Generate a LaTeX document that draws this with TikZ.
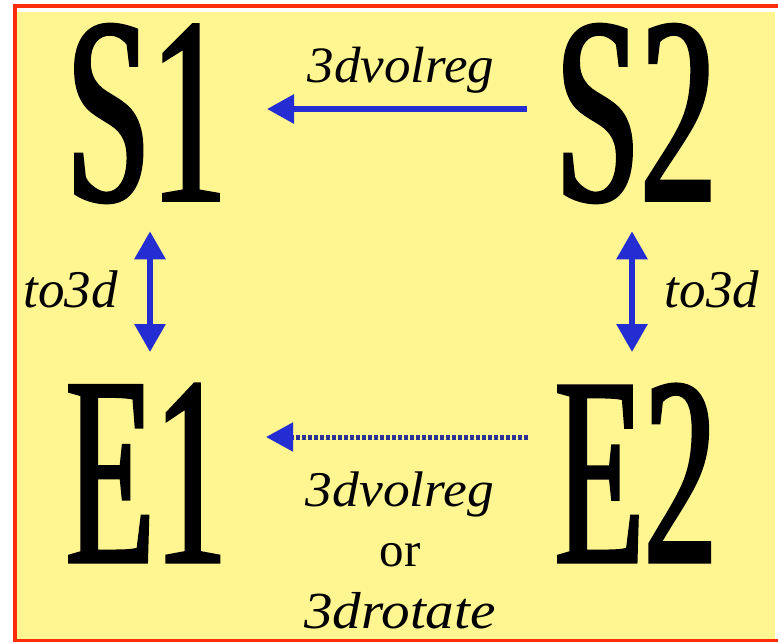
\documentclass[tikz,border=0pt]{standalone}
\usepackage{fontspec}
\setmainfont{Liberation Serif}
\newfontfamily\bigfont[FakeStretch=0.29,FakeBold=0.8]{Liberation Serif}
\usetikzlibrary{arrows.meta}
\definecolor{bgyellow}{RGB}{255,246,145}
\definecolor{framered}{RGB}{255,45,10}
\definecolor{arrblue}{RGB}{35,45,210}
\definecolor{dotnavy}{RGB}{45,50,150}
\begin{document}
\begin{tikzpicture}[x=1pt,y=-1pt,
  big/.style={inner sep=0pt, outer sep=0pt, font=\fontsize{270}{270}\bigfont},
  lab/.style={inner sep=0pt, anchor=base, font=\fontsize{50}{60}\selectfont\itshape},
  arr/.style={draw=arrblue, line width=6pt, -{Triangle[length=27pt,width=28pt]}},
  darr/.style={draw=arrblue, line width=6pt, {Triangle[length=28pt,width=30pt]}-{Triangle[length=28pt,width=30pt]}},
  dotarr/.style={draw=dotnavy, line width=5pt, dash pattern=on 4pt off 2pt, -{Triangle[length=27pt,width=28pt,color=arrblue]}}
]
\useasboundingbox (0,0) rectangle (778,642);
\fill[white] (0,0) rectangle (778,642);
\fill[framered] (13,4) rectangle (778,8);
\fill[framered] (13,4) rectangle (17,642);
\fill[bgyellow] (17,12) rectangle (775,639);
\fill[framered] (13,639) rectangle (778,642);

\node[big] (S1) at (146.5,113.5) {\resizebox{161pt}{177pt}{S1}};
\node[big] (S2) at (636,113.5) {\resizebox{162pt}{177pt}{S2}};
\node[big] (E1) at (146.5,473) {\resizebox{161pt}{179pt}{E1}};
\node[big] (E2) at (636,473) {\resizebox{162pt}{179pt}{E2}};

\node[lab, font=\fontsize{51}{60}\selectfont\itshape] (l1) at (401,82) {\scalebox{1.04}[1]{3dvolreg}};
\node[lab] (l2) at (400,506) {\scalebox{1.07}[1]{3dvolreg}};
\node[lab, font=\fontsize{49}{60}\selectfont\upshape] (l3) at (400,566) {or};
\node[lab, font=\fontsize{52}{60}\selectfont\itshape] (l4) at (400,628) {\scalebox{1.1}[1]{3drotate}};
\node[lab, font=\fontsize{53}{60}\selectfont\itshape] (t1) at (70.5,307) {to3d};
\node[lab, font=\fontsize{53}{60}\selectfont\itshape] (t2) at (712,307) {to3d};

\draw[arr, shorten <=28pt, shorten >=40pt] ([yshift=4.5pt]S2.west) -- ([yshift=4.5pt]S1.east);
\draw[dotarr, shorten <=27pt, shorten >=39pt] ([yshift=36pt]E2.west) -- ([yshift=36pt]E1.east);
\draw[darr, shorten <=31.5pt, shorten >=28pt] ([xshift=3.5pt]E1.north) -- ([xshift=3.5pt]S1.south);
\draw[darr, shorten <=31.5pt, shorten >=28pt] ([xshift=-4pt]E2.north) -- ([xshift=-4pt]S2.south);
\end{tikzpicture}
\end{document}
